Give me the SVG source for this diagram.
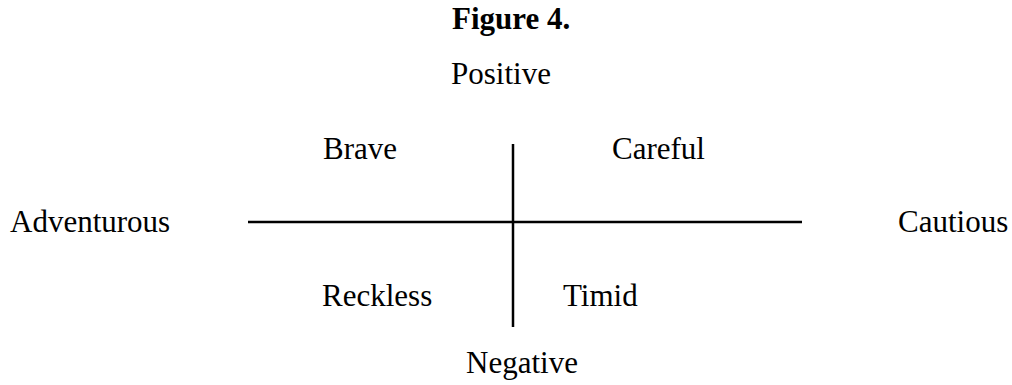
<svg xmlns="http://www.w3.org/2000/svg" width="1012" height="385" viewBox="0 0 1012 385">
<style>
text{font-family:"Liberation Serif","Times New Roman",serif;font-size:31px;fill:#000}
.t{font-weight:bold}
.ax{stroke:#000;stroke-width:2.5;fill:none}
</style>
<rect width="1012" height="385" fill="#fff"/>
<text class="t" x="452" y="29">Figure 4.</text>
<g id="connectors">
<line class="ax" x1="513" y1="144" x2="513" y2="327"/>
<line class="ax" x1="248" y1="222" x2="802" y2="222"/>
</g>
<g id="positive"><text x="451" y="84">Positive</text></g>
<g id="negative"><text x="466" y="373">Negative</text></g>
<g id="adventurous"><text x="10" y="232">Adventurous</text></g>
<g id="cautious"><text x="898" y="232">Cautious</text></g>
<g id="brave"><text x="323" y="159">Brave</text></g>
<g id="careful"><text x="612" y="159">Careful</text></g>
<g id="reckless"><text x="322" y="306">Reckless</text></g>
<g id="timid"><text x="563" y="306">Timid</text></g>
</svg>
